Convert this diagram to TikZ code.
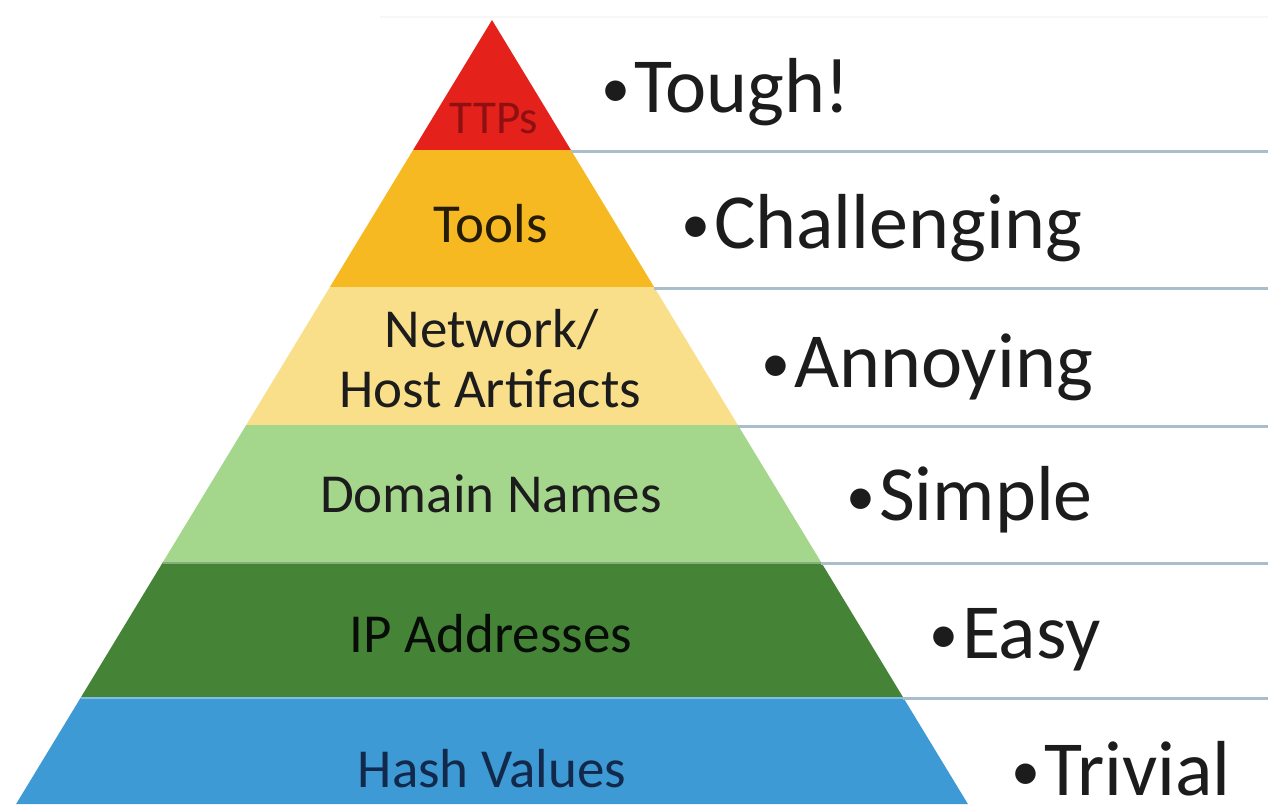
\documentclass[tikz,border=0pt]{standalone}
\usepackage{fontspec}
\setmainfont{Carlito}
\definecolor{cRed}{HTML}{E4211B}
\definecolor{cTTPtxt}{HTML}{8E1010}
\definecolor{cTools}{HTML}{F6B922}
\definecolor{cNet}{HTML}{FADF8A}
\definecolor{cDom}{HTML}{A4D68C}
\definecolor{cIP}{HTML}{458437}
\definecolor{cHash}{HTML}{3D9AD4}
\definecolor{cRule}{HTML}{A9BDCB}
\definecolor{cTxt}{HTML}{1C1C1C}
\definecolor{cHashTxt}{HTML}{13294B}
\newcommand{\mybul}{{\fontsize{58}{60}\selectfont\raisebox{5pt}{•}}\kern4pt}
\begin{document}
\begin{tikzpicture}[x=1pt,y=-1pt,
  bandlabel/.style={inner sep=0pt,anchor=base,text depth=0pt,font=\fontsize{55}{60}\selectfont,text=cTxt},
  rightlabel/.style={inner sep=0pt,anchor=base west,text depth=0pt,font=\fontsize{78}{86}\selectfont,text=cTxt},
  rule/.style={draw=cRule,line width=3pt},
  sep/.style={draw=white,draw opacity=0.35,line width=2pt}]
\useasboundingbox (0,0) rectangle (1268,804);
\fill[white] (0,0) rectangle (1268,804);
% faint top line
\draw[draw=gray!6,line width=2pt] (380,17) -- (1268,17);
% bands
\fill[cRed] (492,20) -- (570.9,150) -- (413.1,150) -- cycle;
\fill[cTools] (413.1,150) -- (570.9,150) -- (654.1,287) -- (329.9,287) -- cycle;
\fill[cNet] (329.9,287) -- (654.1,287) -- (737.8,425) -- (246.2,425) -- cycle;
\fill[cDom] (246.2,425) -- (737.8,425) -- (821.0,562) -- (163.0,562) -- cycle;
\fill[cIP] (163.0,562) -- (821.0,562) -- (902.9,697) -- (81.1,697) -- cycle;
\fill[cHash] (81.1,697) -- (902.9,697) -- (967.9,804) -- (16.1,804) -- cycle;
% separators inside pyramid
\draw[sep] (163.0,563) -- (821.0,563);
\draw[sep] (81.1,698) -- (902.9,698);
% edge coordinates and rules
\coordinate (e1) at (570.9,151);
\coordinate (e2) at (654.1,288);
\coordinate (e3) at (737.8,426);
\coordinate (e4) at (821.0,563);
\coordinate (e5) at (902.9,698);
\coordinate (r1) at (1268,151);
\coordinate (r2) at (1268,288);
\coordinate (r3) at (1268,426);
\coordinate (r4) at (1268,563);
\coordinate (r5) at (1268,698);
\draw[rule] (e1) -- (r1);
\draw[rule] (e2) -- (r2);
\draw[rule] (e3) -- (r3);
\draw[rule] (e4) -- (r4);
\draw[rule] (e5) -- (r5);
% TTPs label clipped to the apex
\begin{scope}
\clip (492,20) -- (570.9,150) -- (413.1,150) -- cycle;
\node[bandlabel,font=\fontsize{47}{50}\selectfont,text=cTTPtxt] (ttps) at (494,133) {TTPs};
\end{scope}
% band labels
\node[bandlabel,text=black!85!cTools] (tools) at (491,242) {Tools};
\node[bandlabel] (net1) at (492,347) {Network/};
\node[bandlabel] (net2) at (490,407) {Host Artifacts};
\node[bandlabel] (dom) at (491,512) {Domain Names};
\node[bandlabel,text=black!90!cIP] (ip) at (491,652) {IP Addresses};
\node[bandlabel,text=cHashTxt] (hash) at (492,787) {Hash Values};
% right labels
\node[rightlabel] (tough) at (601,112) {\mybul Tough!};
\node[rightlabel] (chal) at (681,248) {\mybul Challenging};
\node[rightlabel] (ann) at (761,387) {\mybul Annoying};
\node[rightlabel] (simp) at (846,520) {\mybul Simple};
\node[rightlabel] (easy) at (929,658) {\mybul Easy};
\node[rightlabel] (triv) at (1011,795) {\mybul Trivial};
\end{tikzpicture}
\end{document}
